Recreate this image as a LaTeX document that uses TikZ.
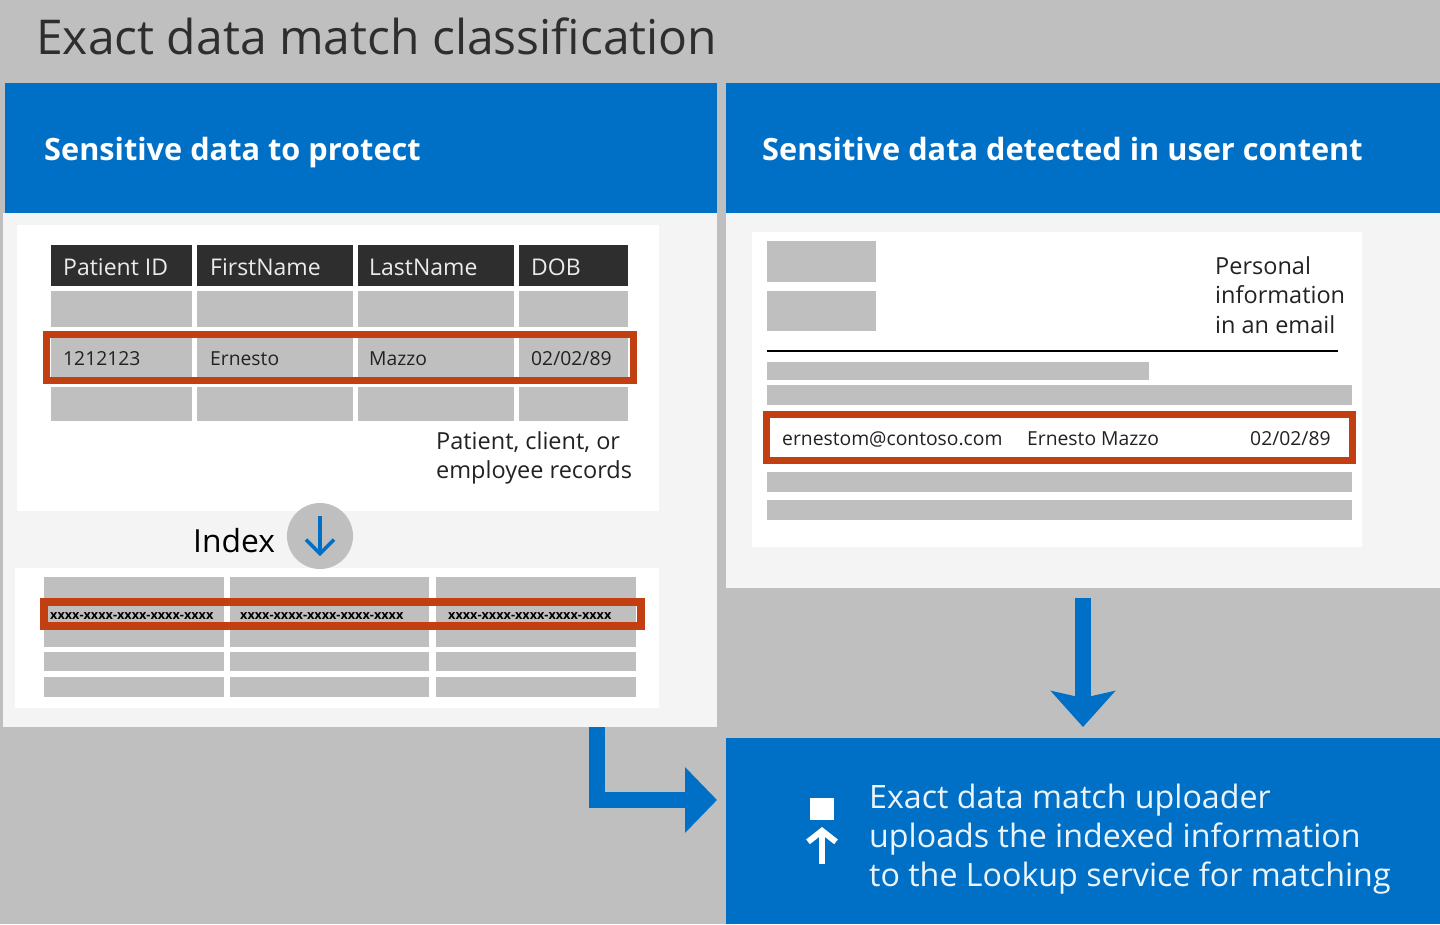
\documentclass[tikz,border=0pt]{standalone}
\usepackage{fontspec}
\setmainfont{Open Sans}
\usetikzlibrary{arrows.meta}
\definecolor{bg}{HTML}{BFBFBF}
\definecolor{msblue}{HTML}{0070C6}
\definecolor{panel}{HTML}{F4F4F4}
\definecolor{cellgrey}{HTML}{BFBFBF}
\definecolor{hdr}{HTML}{2E2E2E}
\definecolor{hilite}{HTML}{C23F12}
\definecolor{txt}{HTML}{222222}
\newcommand{\fsz}[1]{\fontsize{#1}{#1}\selectfont}
\tikzset{
  x=1pt,y=-1pt,
  cell/.style={fill=cellgrey,draw=none},
  hbar/.style={draw=hilite,line width=7pt,fill=none},
  hbarthick/.style={draw=hilite,line width=8pt,fill=none},
  lab/.style={anchor=base west,inner sep=0pt,text=txt},
  bluehead/.style={lab,text=white,font=\fsz{30.7}\bfseries},
  hd/.style={lab,text=white!92!black,font=\fsz{23}},
  rowt/.style={lab,text=txt,font=\fsz{19.3}},
  hash/.style={lab,text=black,font=\fsz{12.7}\bfseries},
  note/.style={anchor=west,align=left,inner sep=0pt,text=txt,font=\fsz{23.5}},
  flow/.style={draw=msblue,line width=16pt},
}
\begin{document}
\begin{tikzpicture}
\useasboundingbox (0,0) rectangle (1440,924);
\fill[bg] (0,0) rectangle (1440,924);
\node[lab,text=hdr,font=\fsz{48}] (title) at (36,54) {Exact data match classification};
% panels
\fill[panel] (3,213) rectangle (717,727);
\coordinate (leftbottom) at (597,727);
\fill[msblue] (5,83) rectangle (717,213);
\fill[msblue] (726,83) rectangle (1440,213);
\fill[panel] (726,213) rectangle (1440,588);
\fill[white] (17,225) rectangle (659,511);
\fill[white] (15,568) rectangle (659,708);
\fill[white] (752,232) rectangle (1362,547);
\node[bluehead] (h1) at (44,160) {Sensitive data to protect};
\node[bluehead] (h2) at (762,160) {Sensitive data detected in user content};
% left table
\foreach \a/\b in {51/192,197/353,358/514,519/628}{
  \fill[hdr] (\a,245) rectangle (\b,286);
  \fill[cell] (\a,291) rectangle (\b,327);
  \fill[cell] (\a,332) rectangle (\b,382);
  \fill[cell] (\a,387) rectangle (\b,421);
}
\node[hd] (c1) at (63,275) {Patient ID};
\node[hd] (c2) at (210,275) {FirstName};
\node[hd] (c3) at (369,275) {LastName};
\node[hd] (c4) at (531,275) {DOB};
\node[rowt] (r1) at (63,365) {1212123};
\node[rowt] (r2) at (210,365) {Ernesto};
\node[rowt] (r3) at (369,365) {Mazzo};
\node[rowt] (r4) at (531,365) {02/02/89};
\draw[hbar] (46.5,334.5) rectangle (633.5,380.5);
\node[note] (n1) at (436,458) {Patient, client, or\\[6pt]employee records};
% index
\fill[bg] (320,536) circle (33);
\node[lab,text=black,font=\fsz{31.8}] (idx) at (193,552) {Index};
\coordinate (ia) at (320,516);
\coordinate (ib) at (320,556);
\draw[msblue,line width=3.5pt,-{Straight Barb[length=14pt,width=28pt]}] (ia) -- (ib);
% index table
\foreach \a/\b in {44/224,230/429,436/636}{
  \fill[cell] (\a,577) rectangle (\b,647);
  \fill[cell] (\a,652) rectangle (\b,671);
  \fill[cell] (\a,677) rectangle (\b,697);
}
\node[hash] (x1) at (50,619) {xxxx-xxxx-xxxx-xxxx-xxxx};
\node[hash] (x2) at (240,619) {xxxx-xxxx-xxxx-xxxx-xxxx};
\node[hash] (x3) at (448,619) {xxxx-xxxx-xxxx-xxxx-xxxx};
\draw[hbarthick] (44,602) rectangle (641,626);
% right doc
\fill[cell] (767,241) rectangle (876,282);
\fill[cell] (767,291) rectangle (876,331);
\node[note] (n2) at (1215,295) {Personal\\[6pt]information\\[6pt]in an email};
\draw[black,line width=1.6pt] (767,351) -- (1338,351);
\fill[cell] (767,362) rectangle (1149,380);
\fill[cell] (767,385) rectangle (1352,405);
\fill[cell] (767,472) rectangle (1352,492);
\fill[cell] (767,500) rectangle (1352,520);
\draw[hbar] (766.5,414.5) rectangle (1352.5,460.5);
\node[rowt] (e1) at (782,445) {ernestom@contoso.com};
\node[rowt] (e2) at (1027,445) {Ernesto Mazzo};
\node[rowt] (e3) at (1250,445) {02/02/89};
% uploader
\fill[msblue] (726,738) rectangle (1440,924);
\node[lab,text=white!92!msblue,font=\fsz{32.2}] (u1) at (869,808) {Exact data match uploader};
\node[lab,text=white!92!msblue,font=\fsz{32.2}] (u2) at (869,847) {uploads the indexed information};
\node[lab,text=white!92!msblue,font=\fsz{32.2}] (u3) at (869,886) {to the Lookup service for matching};
\fill[white] (810,798) rectangle (834,820);
\coordinate (ua) at (822,864);
\coordinate (ub) at (822,827);
\draw[white,line width=6pt,-{Straight Barb[length=11pt,width=28pt]}] (ua) -- (ub);
% flow arrows
\coordinate (rt) at (1083,598);
\coordinate (rb) at (1083,727);
\draw[flow,-{Stealth[length=36pt,width=64pt,inset=7pt]}] (rt) -- (rb);
\coordinate (lt) at (717,800);
\draw[flow,-{Triangle[length=32pt,width=64pt]}] (leftbottom) |- (lt);
\end{tikzpicture}
\end{document}
